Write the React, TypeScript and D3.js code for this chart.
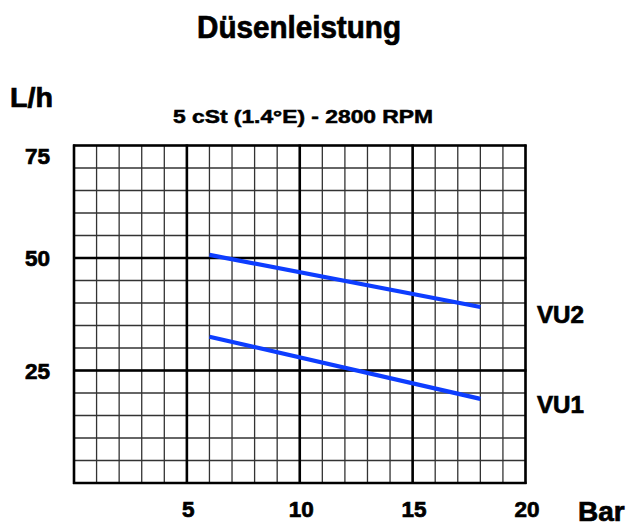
import React from "react";
import * as d3 from "d3";

const title = "Düsenleistung";
const subtitle = "5 cSt (1.4°E) - 2800 RPM";
const yUnit = "L/h";
const xUnit = "Bar";
const xTicks = [5, 10, 15, 20];
const yTicks = [25, 50, 75];
const pressures = [6, 18];
const vu1 = [32.5, 18.7];
const vu2 = [50.7, 39.1];
const seriesNames = ["VU1", "VU2"];

const W = 633;
const H = 527;
const FONT = "'Liberation Sans', Arial, Helvetica, sans-serif";

export default function App() {
  const x = d3.scaleLinear().domain([0, 20]).range([74, 525.5]);
  const y = d3.scaleLinear().domain([0, 75]).range([483, 145.5]);
  const minorX = d3.range(0, 21, 1);
  const minorY = d3.range(0, 76, 5);
  const majorX = d3.range(0, 21, 5);
  const majorY = d3.range(0, 76, 25);
  const line = d3
    .line<[number, number]>()
    .x((d) => x(d[0]))
    .y((d) => y(d[1]));
  const series = [vu1, vu2].map((vals) =>
    pressures.map((p, i) => [p, vals[i]] as [number, number])
  );
  const labelY = [y(18.7) + 14, y(39.1) + 16];
  const thick = { stroke: "#000", strokeWidth: 0.7, paintOrder: "stroke" } as any;

  return (
    <svg
      width={W}
      height={H}
      style={{ position: "absolute", left: 0, top: 0, background: "#fff" }}
      fontFamily={FONT}
      fontWeight="bold"
    >
      <rect width={W} height={H} fill="#fff" />
      <text x={197} y={38} fontSize={31} fill="#000" textLength={204} lengthAdjust="spacingAndGlyphs" {...thick}>
        {title}
      </text>
      <text x={10} y={107} fontSize={27} fill="#000" textLength={43} lengthAdjust="spacingAndGlyphs" {...thick}>
        {yUnit}
      </text>
      <text x={173} y={123} fontSize={17.5} fill="#000" textLength={260} lengthAdjust="spacingAndGlyphs" {...thick} strokeWidth={0.5}>
        {subtitle}
      </text>
      {minorX.map((v) => (
        <line key={"mx" + v} x1={x(v)} x2={x(v)} y1={y(0)} y2={y(75)} stroke="#333" strokeWidth={1.3} />
      ))}
      {minorY.map((v) => (
        <line key={"my" + v} x1={x(0)} x2={x(20)} y1={y(v)} y2={y(v)} stroke="#333" strokeWidth={1.3} />
      ))}
      {majorX.map((v) => (
        <line key={"Mx" + v} x1={x(v)} x2={x(v)} y1={y(0) + 1} y2={y(75) - 1} stroke="#000" strokeWidth={2.6} />
      ))}
      {majorY.map((v) => (
        <line key={"My" + v} x1={x(0) - 1} x2={x(20) + 1} y1={y(v)} y2={y(v)} stroke="#000" strokeWidth={2.6} />
      ))}
      {series.map((s, i) => (
        <path key={"s" + i} d={line(s) || ""} fill="none" stroke="#0d3dff" strokeWidth={4.2} />
      ))}
      {seriesNames.map((n, i) => (
        <text key={n} x={537} y={labelY[i]} fontSize={23} fill="#000" textLength={47} lengthAdjust="spacingAndGlyphs" {...thick}>
          {n}
        </text>
      ))}
      {yTicks.map((v) => (
        <text key={"yt" + v} x={50} y={(v === 75 ? y(v) + 10 : y(v)) + 8} fontSize={22.5} textAnchor="end" fill="#000" {...thick}>
          {v}
        </text>
      ))}
      {xTicks.map((v) => (
        <text key={"xt" + v} x={x(v) + 1.5} y={517} fontSize={22.5} textAnchor="middle" fill="#000" {...thick}>
          {v}
        </text>
      ))}
      <text x={578} y={521} fontSize={28} fill="#000" {...thick}>
        {xUnit}
      </text>
    </svg>
  );
}
